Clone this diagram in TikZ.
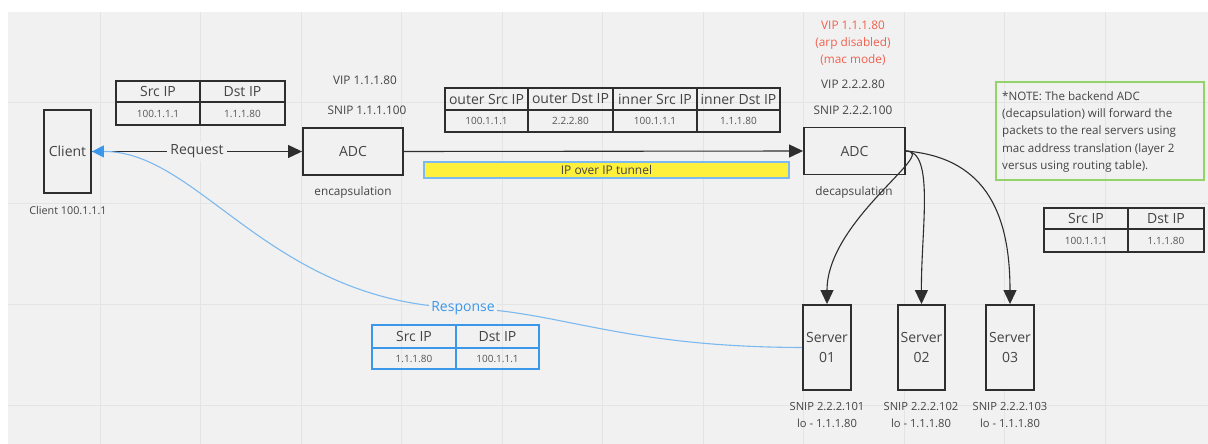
\documentclass[tikz,border=0pt]{standalone}
\usepackage{fontspec}
\setmainfont{Open Sans}
\usetikzlibrary{arrows.meta}
\definecolor{bgc}{HTML}{F1F1F1}
\definecolor{gridc}{HTML}{E4E4E4}
\definecolor{boxc}{HTML}{2E2E2E}
\definecolor{txtc}{HTML}{444444}
\definecolor{valc}{HTML}{555555}
\definecolor{redc}{HTML}{F0604E}
\definecolor{bluel}{HTML}{7CB9EE}
\definecolor{blued}{HTML}{3A97EA}
\definecolor{yel}{HTML}{FFF03C}
\definecolor{notec}{HTML}{94D26A}
\tikzset{
  box/.style={draw=boxc, line width=1.9pt, fill=bgc, inner sep=0pt, text=txtc, font=\fontsize{14}{19}\selectfont, align=center},
  cell/.style={draw=boxc, line width=1.6pt, inner sep=0pt, text=txtc, font=\fontsize{14}{16}\selectfont},
  vcell/.style={cell, text=valc, font=\fontsize{10}{12}\selectfont},
  bcell/.style={cell, draw=blued},
  bvcell/.style={vcell, draw=blued},
  lbl/.style={text=txtc, font=\fontsize{11.8}{14}\selectfont, inner sep=1pt, align=center},
  rlbl/.style={lbl, text=redc},
  conn/.style={draw=boxc, line width=1.1pt, -{Triangle[length=14pt,width=13pt]}},
}
\begin{document}
\begin{tikzpicture}[x=1pt,y=-1pt]
\useasboundingbox (0,0) rectangle (1208,444);
\fill[white] (0,0) rectangle (1208,444);
\fill[bgc] (8,12) rectangle (1208,444);
\foreach \gx in {100,200.5,301,401.5,502,602.5,703,803.5,904,1004.5,1105}
  \draw[gridc, line width=1pt] (\gx,12) -- (\gx,444);
\foreach \gy in {102,203,304,405}
  \draw[gridc, line width=1pt] (8,\gy) -- (1208,\gy);

% Client
\node[box, minimum width=47, minimum height=83] (client) at (67.5,151.5) {Client};
\node[lbl, font=\fontsize{10.8}{12}\selectfont] (clientip) at (68,210) {Client 100.1.1.1};

% Table 1
\node[cell, minimum width=84, minimum height=21] (t1h1) at (158,91.5) {Src IP};
\node[cell, minimum width=85, minimum height=21] (t1h2) at (242.5,91.5) {Dst IP};
\node[vcell, minimum width=84, minimum height=23] (t1v1) at (158,113.5) {100.1.1.1};
\node[vcell, minimum width=85, minimum height=23] (t1v2) at (242.5,113.5) {1.1.1.80};

% ADC 1
\node[box, minimum width=100, minimum height=47] (adc1) at (353,151.5) {ADC};
\node[lbl] (vip1) at (365,80) {VIP 1.1.1.80};
\node[lbl] (snip1) at (367,110) {SNIP 1.1.1.100};
\node[lbl] (enc) at (353,192) {encapsulation};

% Table 2
\node[cell, minimum width=83, minimum height=22] (t2h1) at (486.5,99) {outer Src IP};
\node[cell, minimum width=85, minimum height=22] (t2h2) at (570.5,99) {outer Dst IP};
\node[cell, minimum width=84, minimum height=22] (t2h3) at (655,99) {inner Src IP};
\node[cell, minimum width=83, minimum height=22] (t2h4) at (738.5,99) {inner Dst IP};
\node[vcell, minimum width=83, minimum height=22] (t2v1) at (486.5,121) {100.1.1.1};
\node[vcell, minimum width=85, minimum height=22] (t2v2) at (570.5,121) {2.2.2.80};
\node[vcell, minimum width=84, minimum height=22] (t2v3) at (655,121) {100.1.1.1};
\node[vcell, minimum width=83, minimum height=22] (t2v4) at (738.5,121) {1.1.1.80};

% Tunnel bar
\node[draw=bluel, line width=1.5pt, fill=yel, minimum width=365, minimum height=16, inner sep=0pt,
      text=txtc, font=\fontsize{12}{13}\selectfont] (tunnel) at (606.5,170) {IP over IP tunnel};

% ADC 2
\node[box, minimum width=101, minimum height=47] (adc2) at (854.5,151) {ADC};
\node[rlbl] (rvip) at (853,25) {VIP 1.1.1.80};
\node[rlbl] (rarp) at (853,43) {(arp disabled)};
\node[rlbl] (rmac) at (853,60) {(mac mode)};
\node[lbl] (vip2) at (853,84) {VIP 2.2.2.80};
\node[lbl] (snip2) at (853,110) {SNIP 2.2.2.100};
\node[lbl] (dec) at (854,192) {decapsulation};

% Note
\node[draw=notec, line width=1.5pt, minimum width=208, minimum height=98, inner sep=0pt] (notebox) at (1100,131) {};
\node[lbl, anchor=north west, align=left, inner sep=0pt, font=\fontsize{11.6}{17.2}\selectfont] (notetext) at (1002,91.5)
  {*NOTE: The backend ADC\\(decapsulation) will forward the\\packets to the real servers using\\mac address translation (layer 2\\versus using routing table).};

% Table 3
\node[cell, minimum width=84, minimum height=21] (t3h1) at (1086,218.5) {Src IP};
\node[cell, minimum width=76, minimum height=21] (t3h2) at (1166,218.5) {Dst IP};
\node[vcell, minimum width=84, minimum height=23] (t3v1) at (1086,240.5) {100.1.1.1};
\node[vcell, minimum width=76, minimum height=23] (t3v2) at (1166,240.5) {1.1.1.80};

% Servers
\node[box, minimum width=48, minimum height=85, font=\fontsize{14}{20}\selectfont] (s1) at (827,347.5) {Server\\01};
\node[box, minimum width=47, minimum height=85, font=\fontsize{14}{20}\selectfont] (s2) at (921.5,347.5) {Server\\02};
\node[box, minimum width=48, minimum height=85, font=\fontsize{14}{20}\selectfont] (s3) at (1010,347.5) {Server\\03};
\node[lbl, align=center, font=\fontsize{11.2}{17}\selectfont] (s1l) at (827,415) {SNIP 2.2.2.101\\lo - 1.1.1.80};
\node[lbl, align=center, font=\fontsize{11.2}{17}\selectfont] (s2l) at (921,415) {SNIP 2.2.2.102\\lo - 1.1.1.80};
\node[lbl, align=center, font=\fontsize{11.2}{17}\selectfont] (s3l) at (1010,415) {SNIP 2.2.2.103\\lo - 1.1.1.80};

% Response table
\node[bcell, minimum width=84, minimum height=23] (t4h1) at (414,336.5) {Src IP};
\node[bcell, minimum width=83, minimum height=23] (t4h2) at (497.5,336.5) {Dst IP};
\node[bvcell, minimum width=84, minimum height=21] (t4v1) at (414,358.5) {1.1.1.80};
\node[bvcell, minimum width=83, minimum height=21] (t4v2) at (497.5,358.5) {100.1.1.1};

% Connectors
\draw[conn] (client.east) -- node[fill=bgc, text=txtc, font=\fontsize{14}{16}\selectfont, inner sep=3pt] (req) {Request} (adc1.west);
\draw[conn] (adc1.east) -- (adc2.west);
\draw[conn] (adc2.east) .. controls (940,151) and (827,220) .. (s1.north);
\draw[conn] (adc2.east) .. controls (935,151) and (921,230) .. (s2.north);
\draw[conn] (adc2.east) .. controls (990,158) and (1010,220) .. (s3.north);

\coordinate (rmid) at (463,308);
\draw[draw=bluel, line width=1.1pt] (s1.west) .. controls (620,347) and (560,311) .. (rmid);
\draw[draw=bluel, line width=1.1pt, -{Triangle[length=12pt,width=12pt,color=blued]}] (rmid) .. controls (270,303) and (200,151) .. (client.east);
\node[fill=bgc, text=blued, font=\fontsize{14}{16}\selectfont, inner sep=2pt] (resp) at (rmid) {Response};
\end{tikzpicture}
\end{document}
